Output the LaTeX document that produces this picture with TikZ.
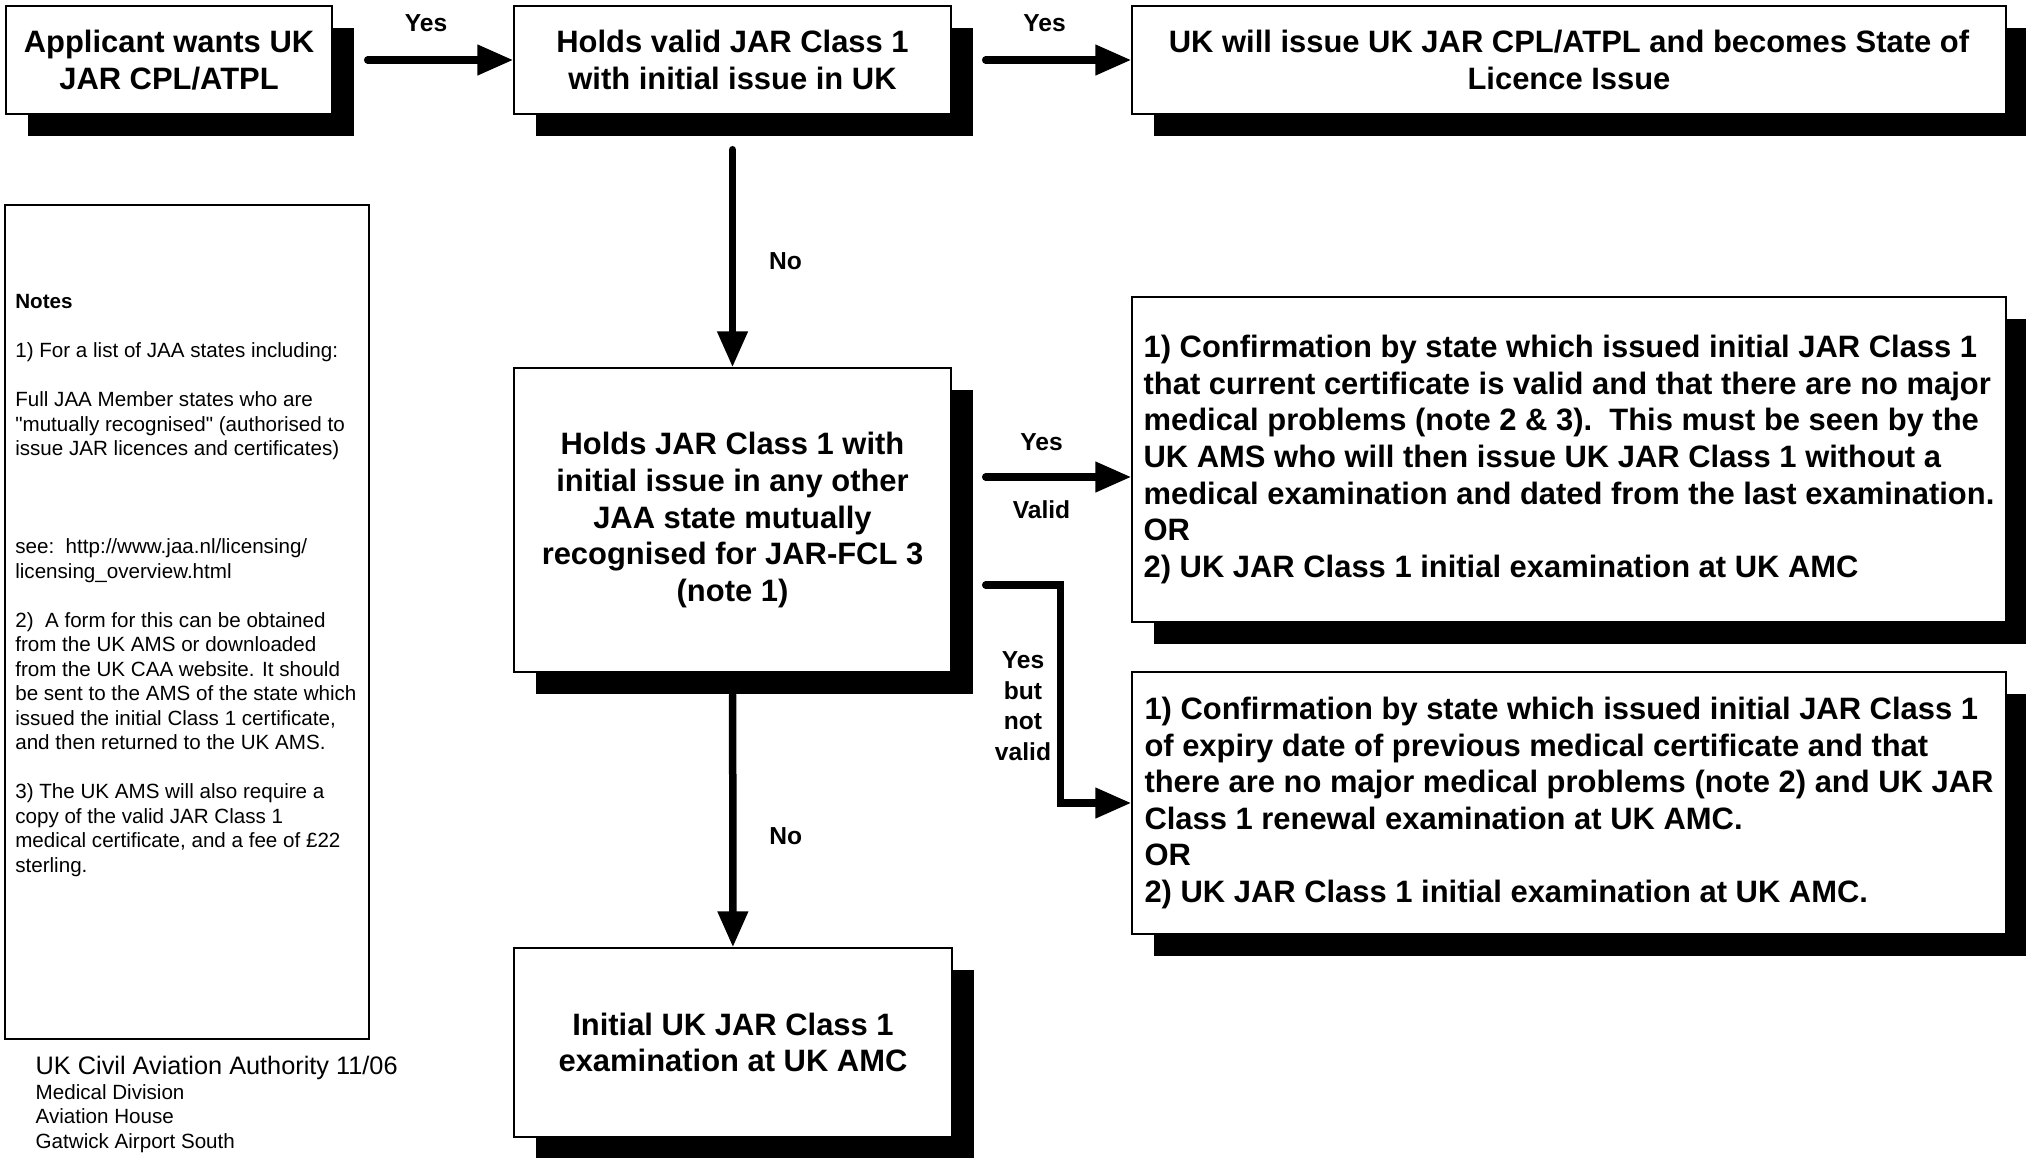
\documentclass[tikz,border=0pt]{standalone}
\usepackage{fontspec}
\setmainfont{Liberation Sans}
\usetikzlibrary{arrows.meta,shadows}

\newcommand{\flowfont}{\bfseries\fontsize{8.8}{10.4}\selectfont}
\newcommand{\labfont}{\bfseries\fontsize{7}{8.7}\selectfont}
\newcommand{\notefont}{\fontsize{5.86}{6.97}\selectfont}

\begin{document}
\begin{tikzpicture}[
    box/.style={draw, line width=0.4pt, fill=white, inner sep=0pt, align=center, font=\flowfont,
        drop shadow={shadow xshift=0.22cm, shadow yshift=-0.22cm, fill=black, opacity=1}},
    flow/.style={line width=0.075cm, line cap=round, -{Triangle[length=0.36cm, width=0.29cm]}},
    lab/.style={font=\labfont, align=center, inner sep=0pt}
]
    \useasboundingbox (0,0) rectangle (20.26,-11.57);
    \node[box, minimum width=3.26cm, minimum height=1.08cm] at (1.69,-0.60) (A) {Applicant wants UK\\JAR CPL/ATPL};
    \node[box, minimum width=4.37cm, minimum height=1.08cm] at (7.325,-0.60) (B) {Holds valid JAR Class 1\\with initial issue in UK};
    \node[box, minimum width=8.74cm, minimum height=1.08cm] at (15.69,-0.60) (C) {UK will issue UK JAR CPL/ATPL and becomes State of\\Licence Issue};
    \node[box, minimum width=4.37cm, minimum height=3.04cm] at (7.325,-5.20) (D) {Holds JAR Class 1 with\\initial issue in any other\\JAA state mutually\\recognised for JAR-FCL 3\\(note 1)};
    \node[box, align=left, minimum width=8.74cm, minimum height=3.25cm] at (15.69,-4.595) (E) {1) Confirmation by state which issued initial JAR Class 1\\that current certificate is valid and that there are no major\\medical problems (note 2 \& 3).\ \ This must be seen by the\\UK AMS who will then issue UK JAR Class 1 without a\\medical examination and dated from the last examination.\\OR\\2) UK JAR Class 1 initial examination at UK AMC};
    \node[box, align=left, minimum width=8.74cm, minimum height=2.62cm] at (15.69,-8.03) (F) {1) Confirmation by state which issued initial JAR Class 1\\of expiry date of previous medical certificate and that\\there are no major medical problems (note 2) and UK JAR\\Class 1 renewal examination at UK AMC.\\OR\\2) UK JAR Class 1 initial examination at UK AMC.};
    \node[box, minimum width=4.38cm, minimum height=1.89cm] at (7.33,-10.425) (G) {Initial UK JAR Class 1\\examination at UK AMC};
    \node[draw, line width=0.5pt, minimum width=3.64cm, minimum height=8.34cm] at (1.87,-6.22) (N) {};
    \node[anchor=north west, inner sep=0pt, align=left, font=\notefont] at ([xshift=0.105cm, yshift=-0.896cm]N.north west) (NT) {\textbf{Notes}\\[0.245cm]
        1) For a list of JAA states including:\\[0.245cm]
        Full JAA Member states who are\\
        \textquotedbl mutually recognised\textquotedbl{} (authorised to\\
        issue JAR licences and certificates)\\[0.735cm]
        see:\ \ http://www.jaa.nl/licensing/\\
        licensing\_overview.html\\[0.245cm]
        2)\ \ A form for this can be obtained\\
        from the UK AMS or downloaded\\
        from the UK CAA website. It should\\
        be sent to the AMS of the state which\\
        issued the initial Class 1 certificate,\\
        and then returned to the UK AMS.\\[0.245cm]
        3) The UK AMS will also require a\\
        copy of the valid JAR Class 1\\
        medical certificate, and a fee of £22\\
        sterling.};
    \node[anchor=base west, inner sep=0pt, font=\fontsize{7.2}{8.6}\selectfont] at (0.35,-10.74) (CAA) {UK Civil Aviation Authority 11/06};
    \node[anchor=north west, inner sep=0pt, align=left, font=\fontsize{5.86}{7.1}\selectfont] at (0.35,-10.834) (ADDR) {Medical Division\\Aviation House\\Gatwick Airport South};
    \coordinate (DV) at ([yshift=0.43cm]D.east);
    \coordinate (DN) at ([yshift=-0.65cm]D.east);
    \draw[flow, shorten <=0.35cm] (A) -- (B) node[lab, midway, xshift=0.03cm, yshift=0.37cm] {Yes};
    \draw[flow, shorten <=0.34cm] (B) -- (C) node[lab, midway, xshift=0.03cm, yshift=0.37cm] {Yes};
    \draw[flow, shorten <=0.35cm] (B) -- (D) node[lab, midway, xshift=0.53cm, yshift=-0.2cm] {No};
    \draw[flow, shorten <=0.34cm] (DV) -- (DV -| E.west) node[lab, midway, yshift=0.35cm] {Yes} node[lab, midway, yshift=-0.33cm] {Valid};
    \draw[flow, shorten <=0.34cm] (DN) -| ([xshift=-0.71cm]F.west) -- (F.west);
    \node[lab] at (10.23,-7.06) (YBNV) {Yes\\but\\not\\valid};
    \draw[flow, shorten <=0.22cm] (D) -- (G) node[lab, midway, xshift=0.53cm, yshift=-0.26cm] {No};
\end{tikzpicture}
\end{document}
